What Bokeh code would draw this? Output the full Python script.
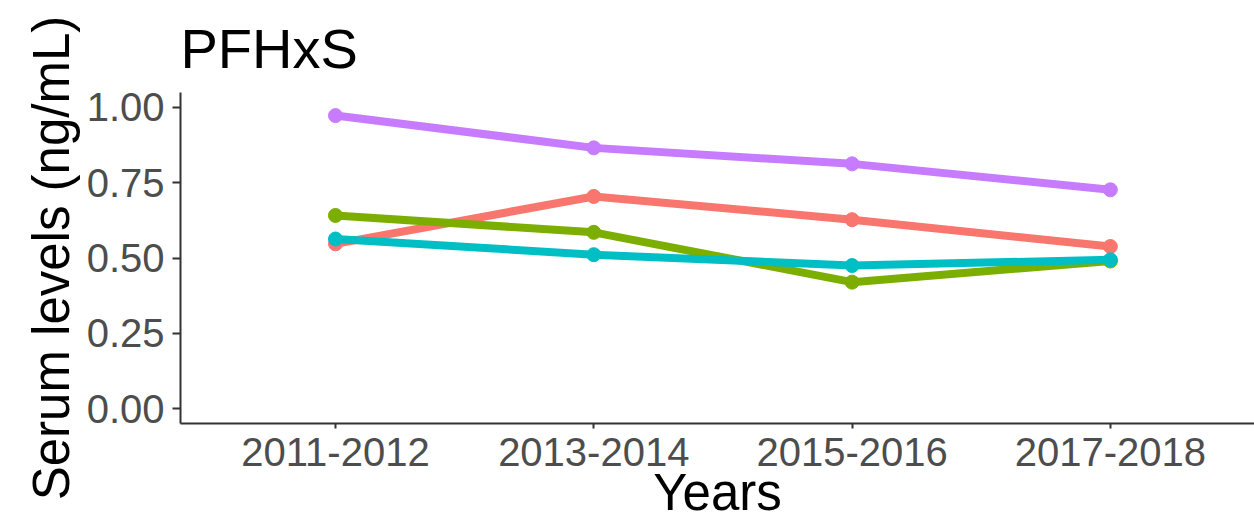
from bokeh.plotting import figure
from bokeh.models import FixedTicker, Range1d, ColumnDataSource
from bokeh.embed import file_html
from bokeh.resources import INLINE

# ---- data ----
years = ["2011-2012", "2013-2014", "2015-2016", "2017-2018"]
series_names = ["Group 1", "Group 2", "Group 3", "Group 4"]
group1 = [0.547, 0.704, 0.627, 0.538]   # red
group2 = [0.641, 0.585, 0.420, 0.490]   # green
group3 = [0.563, 0.511, 0.475, 0.494]   # cyan
group4 = [0.972, 0.865, 0.812, 0.726]   # purple
colors = ["#F8766D", "#7CAE00", "#00BFC4", "#C77CFF"]
y_ticks = [0.0, 0.25, 0.5, 0.75, 1.0]

FONT = "Liberation Sans"

p = figure(width=1254, height=524, output_backend="svg", toolbar_location=None,
           x_range=Range1d(-0.6, 3.558), y_range=Range1d(-0.0485, 1.0485))
p.min_border_left = 180
p.min_border_right = 0
p.min_border_top = 92
p.min_border_bottom = 101
p.outline_line_color = None
p.background_fill_color = "white"
p.border_fill_color = "white"
p.xgrid.visible = False
p.ygrid.visible = False

xs = list(range(len(years)))
for name, vals, col in zip(series_names, [group1, group2, group3, group4], colors):
    src = ColumnDataSource(dict(x=xs, y=vals))
    p.line("x", "y", source=src, line_color=col, line_width=8)
    p.scatter("x", "y", source=src, size=14, fill_color=col, line_color=col)

# title
p.title.text = "PFHxS"
p.title.text_font = FONT
p.title.text_font_size = "56px"
p.title.text_font_style = "normal"
p.title.text_color = "black"
p.title.align = "left"
p.title.standoff = 26

# x axis
xa = p.xaxis[0]
xa.ticker = FixedTicker(ticks=xs)
xa.major_label_overrides = {i: y for i, y in enumerate(years)}
xa.minor_tick_line_color = None
xa.major_tick_in = 0
xa.major_tick_out = 5
xa.major_tick_line_color = "#333333"
xa.major_tick_line_width = 2
xa.axis_line_color = "#333333"
xa.axis_line_width = 2
xa.major_label_text_font = FONT
xa.major_label_text_font_size = "40px"
xa.major_label_text_color = "#4D4D4D"
xa.major_label_standoff = 9
xa.axis_label = "Years"
xa.axis_label_text_font = FONT
xa.axis_label_text_font_size = "51px"
xa.axis_label_text_font_style = "normal"
xa.axis_label_text_color = "black"
xa.axis_label_standoff = -5

# y axis
ya = p.yaxis[0]
ya.ticker = FixedTicker(ticks=y_ticks)
ya.major_label_overrides = {t: f"{t:.2f}" for t in y_ticks}
ya.minor_tick_line_color = None
ya.major_tick_in = 0
ya.major_tick_out = 8
ya.major_tick_line_color = "#333333"
ya.major_tick_line_width = 2
ya.axis_line_color = "#333333"
ya.axis_line_width = 2
ya.major_label_text_font = FONT
ya.major_label_text_font_size = "40px"
ya.major_label_text_color = "#4D4D4D"
ya.major_label_standoff = 8
ya.axis_label = "Serum levels (ng/mL)"
ya.axis_label_text_font = FONT
ya.axis_label_text_font_size = "51px"
ya.axis_label_text_font_style = "normal"
ya.axis_label_text_color = "black"
ya.axis_label_standoff = 4

open("out.html", "w").write(file_html(p, INLINE))
